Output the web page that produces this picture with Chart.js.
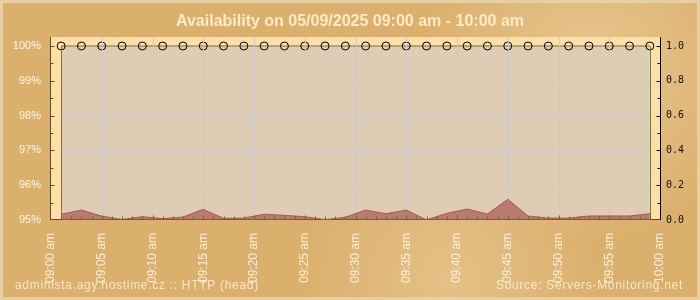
<!DOCTYPE html>
<html><head><meta charset="utf-8">
<script src="https://cdn.jsdelivr.net/npm/chart.js@4.4.1/dist/chart.umd.min.js"></script>
<style>html,body{margin:0;padding:0;background:#dbb06d;}canvas{display:block;}</style>
</head><body>
<canvas id="c" width="700" height="300"></canvas>
<script>
// ---- data ----
const pointTimes = ['09:01','09:03','09:05','09:07','09:09','09:11','09:13','09:15','09:17','09:19',
                    '09:21','09:23','09:25','09:27','09:29','09:31','09:33','09:35','09:37','09:39',
                    '09:41','09:43','09:45','09:47','09:49','09:51','09:53','09:55','09:57','09:59'];
const availability = [100,100,100,100,100,100,100,100,100,100,
                      100,100,100,100,100,100,100,100,100,100,
                      100,100,100,100,100,100,100,100,100,100];
const responseTime = [0.033,0.057,0.022,0.003,0.019,0.008,0.017,0.061,0.010,0.011,
                      0.033,0.027,0.019,0.002,0.016,0.057,0.036,0.057,0.001,0.038,
                      0.063,0.034,0.119,0.023,0.011,0.011,0.023,0.023,0.023,0.036];
const xTickMinutes = [0,5,10,15,20,25,30,35,40,45,50,55,60];
const xTickLabels = ['09:00 am','09:05 am','09:10 am','09:15 am','09:20 am','09:25 am','09:30 am',
                     '09:35 am','09:40 am','09:45 am','09:50 am','09:55 am','10:00 am'];
const leftTicks = [95,96,97,98,99,100];
const rightTicks = [0,0.2,0.4,0.6,0.8,1.0];
const titleText = 'Availability on 05/09/2025 09:00 am - 10:00 am';
const footerLeft = 'administa.agy.hostime.cz :: HTTP (head)';
const footerRight = 'Source: Servers-Monitoring.net';

const toMin = t => { const [h,m] = t.split(':').map(Number); return (h-9)*60 + m; };
const pointMinutes = pointTimes.map(toMin);

const decor = {
  id: 'decor',
  beforeDraw(chart) {
    const {ctx, chartArea: a, width, height} = chart;
    ctx.save();
    ctx.fillStyle = '#dbb06d'; ctx.fillRect(0, 0, width, height);
    let g = ctx.createRadialGradient(590, 70, 5, 590, 70, 170);
    g.addColorStop(0, 'rgba(240,215,170,0.55)'); g.addColorStop(1, 'rgba(240,215,170,0)');
    ctx.fillStyle = g; ctx.fillRect(0, 0, width, height);
    g = ctx.createRadialGradient(450, 280, 5, 450, 280, 150);
    g.addColorStop(0, 'rgba(238,212,165,0.45)'); g.addColorStop(1, 'rgba(238,212,165,0)');
    ctx.fillStyle = g; ctx.fillRect(0, 0, width, height);
    ctx.strokeStyle = 'rgba(232,210,170,0.9)'; ctx.lineWidth = 3;
    ctx.strokeRect(1.5, 1.5, width - 3, height - 3);
    ctx.fillStyle = '#ffdfa6';
    ctx.fillRect(a.left, a.top, a.right - a.left, a.bottom - a.top);
    ctx.restore();
  },
  afterDatasetDraw(chart, args) {
    if (args.index !== 1) return;
    const {ctx, chartArea: a} = chart;
    const x = chart.scales.x, y = chart.scales.y;
    const x0 = Math.round(x.getPixelForValue(pointMinutes[0])) + 0.5;
    const x1 = Math.round(x.getPixelForValue(pointMinutes[pointMinutes.length - 1])) + 0.5;
    const yTop = Math.round(y.getPixelForValue(100)) + 0.5;
    const yBot = Math.round(y.getPixelForValue(95)) - 0.5;
    ctx.save();
    ctx.lineWidth = 1;
    ctx.strokeStyle = 'rgba(200,201,208,0.9)';
    xTickMinutes.forEach(m => {
      if (m <= 0 || m >= 60) return;
      const px = Math.round(x.getPixelForValue(m)) + 0.5;
      ctx.beginPath(); ctx.moveTo(px, a.top); ctx.lineTo(px, a.bottom); ctx.stroke();
    });
    leftTicks.forEach(v => {
      if (v <= 95 || v >= 100) return;
      const py = Math.round(y.getPixelForValue(v)) + 0.5;
      ctx.beginPath(); ctx.moveTo(x0, py); ctx.lineTo(x1, py); ctx.stroke();
    });
    ctx.strokeStyle = '#6b7a3a';
    ctx.beginPath(); ctx.moveTo(x0, yTop); ctx.lineTo(x0, yBot); ctx.stroke();
    ctx.beginPath(); ctx.moveTo(x1, yTop); ctx.lineTo(x1, yBot); ctx.stroke();
    ctx.restore();
  },
  afterDatasetsDraw(chart) {
    const {ctx, chartArea: a} = chart;
    const x = chart.scales.x, y = chart.scales.y, y1 = chart.scales.y1;
    const L = Math.round(a.left) - 0.5, R = Math.round(a.right) + 0.5, B = Math.round(a.bottom) - 0.5;
    ctx.save();
    ctx.lineWidth = 1;
    ctx.strokeStyle = '#5e4b1f';
    ctx.beginPath(); ctx.moveTo(L, B); ctx.lineTo(R, B); ctx.stroke();
    ctx.strokeStyle = '#5f6b35';
    ctx.beginPath();
    ctx.moveTo(Math.round(x.getPixelForValue(pointMinutes[0])), B);
    ctx.lineTo(Math.round(x.getPixelForValue(pointMinutes[pointMinutes.length-1])) + 1, B);
    ctx.stroke();
    for (let m = 1; m < 60; m++) {
      const px = Math.round(x.getPixelForValue(m)) + 0.5;
      const len = (m % 5 === 0) ? 4 : 3;
      ctx.beginPath(); ctx.moveTo(px, B); ctx.lineTo(px, B - len); ctx.stroke();
    }
    ctx.strokeStyle = '#5e4b1f';
    ctx.beginPath(); ctx.moveTo(L, a.top); ctx.lineTo(L, B + 0.5); ctx.stroke();
    for (let v = 95.5; v <= 100.001; v += 0.5) {
      const py = Math.round(y.getPixelForValue(v)) + 0.5;
      const len = (Math.abs(v - Math.round(v)) < 0.01) ? 4 : 3;
      ctx.beginPath(); ctx.moveTo(L, py); ctx.lineTo(L + len, py); ctx.stroke();
    }
    ctx.strokeStyle = '#000';
    ctx.beginPath(); ctx.moveTo(R, a.top); ctx.lineTo(R, B + 0.5); ctx.stroke();
    for (let i = 1; i <= 10; i++) {
      const py = Math.round(y1.getPixelForValue(i / 10)) + 0.5;
      const len = (i % 2 === 0) ? 4 : 3;
      ctx.beginPath(); ctx.moveTo(R, py); ctx.lineTo(R - len, py); ctx.stroke();
    }
    ctx.restore();
  },
  afterDraw(chart) {
    const {ctx} = chart;
    ctx.save();
    ctx.font = '12px "Liberation Sans", Arial, sans-serif';
    try { ctx.letterSpacing = '0.7px'; } catch (e) {}
    ctx.fillStyle = 'rgba(255,244,222,0.82)';
    ctx.textBaseline = 'alphabetic';
    ctx.textAlign = 'left';
    ctx.fillText(footerLeft, 15, 289);
    ctx.textAlign = 'right';
    ctx.fillText(footerRight, 683, 289);
    ctx.restore();
  }
};

new Chart(document.getElementById('c'), {
  type: 'line',
  data: {
    datasets: [
      {
        label: 'Response time',
        data: pointMinutes.map((m, i) => ({x: m, y: responseTime[i]})),
        xAxisID: 'x', yAxisID: 'y1',
        borderColor: '#a65850', borderWidth: 1,
        backgroundColor: '#b97b70', fill: 'origin',
        pointRadius: 0, tension: 0
      },
      {
        label: 'Availability',
        data: pointMinutes.map((m, i) => ({x: m, y: availability[i]})),
        xAxisID: 'x', yAxisID: 'y',
        borderColor: '#6b7a3a', borderWidth: 1,
        backgroundColor: '#decdb4', fill: {value: 95},
        pointRadius: 4, pointBorderColor: '#000', pointBorderWidth: 1,
        pointBackgroundColor: 'rgba(0,0,0,0)', tension: 0, clip: false
      }
    ]
  },
  options: {
    responsive: false, animation: false, devicePixelRatio: 1,
    layout: {padding: 0},
    plugins: {
      legend: {display: false}, tooltip: {enabled: false},
      title: {
        display: true, text: titleText, color: '#fcebc9',
        font: {family: '"Liberation Sans", Arial, sans-serif', size: 16, weight: 'bold'},
        padding: {top: 12, bottom: 5.8}
      }
    },
    scales: {
      x: {
        type: 'linear', position: 'bottom', min: 0, max: 60,
        afterBuildTicks: s => { s.ticks = xTickMinutes.map(v => ({value: v})); },
        afterFit: s => { s.height = 80; },
        grid: {display: false, drawTicks: false}, border: {display: false},
        ticks: {
          autoSkip: false, minRotation: 90, maxRotation: 90, padding: 13,
          color: 'rgba(255,246,230,0.92)',
          font: {family: '"Liberation Sans", Arial, sans-serif', size: 12},
          callback: v => xTickLabels[xTickMinutes.indexOf(v)]
        }
      },
      y: {
        type: 'linear', position: 'left', min: 95, max: 100.2586,
        afterBuildTicks: s => { s.ticks = leftTicks.map(v => ({value: v})); },
        afterFit: s => { s.width = 51; },
        grid: {display: false, drawTicks: false}, border: {display: false},
        ticks: {
          padding: 10, color: '#fff6e6',
          font: {family: '"Liberation Sans", Arial, sans-serif', size: 11},
          callback: v => v + '%'
        }
      },
      y1: {
        type: 'linear', position: 'right', min: 0, max: 1.0517,
        afterBuildTicks: s => { s.ticks = rightTicks.map(v => ({value: v})); },
        afterFit: s => { s.width = 40; },
        grid: {display: false, drawTicks: false}, border: {display: false},
        ticks: {
          padding: 6, color: '#111',
          font: {family: '"DejaVu Sans Mono", monospace', size: 10},
          callback: v => Number(v).toFixed(1)
        }
      }
    }
  },
  plugins: [decor]
});
</script>
</body></html>
